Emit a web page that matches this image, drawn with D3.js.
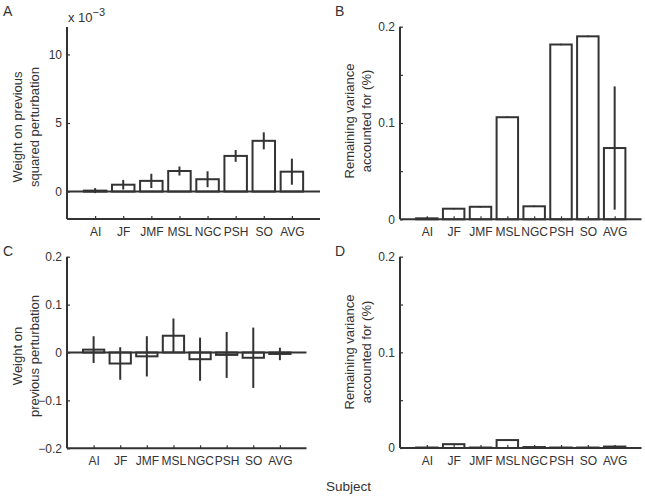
<!DOCTYPE html>
<html><head><meta charset="utf-8">
<script src="https://cdn.jsdelivr.net/npm/d3@7"></script>
<style>body{margin:0;background:#fff}svg{display:block}text{font-family:"Liberation Sans",Arial,Helvetica,sans-serif;fill:#333}</style>
</head><body>
<script>
const subjects = ["AI","JF","JMF","MSL","NGC","PSH","SO","AVG"];
// Panel A (x 10^-3)
const aValues = [0.07, 0.5, 0.78, 1.5, 0.9, 2.6, 3.7, 1.45];
const aErrors = [0.18, 0.35, 0.52, 0.33, 0.58, 0.43, 0.62, 0.95];
// Panel B
const bValues = [0.001, 0.011, 0.013, 0.106, 0.0135, 0.1815, 0.190, 0.074];
const bErrors = [0.0008, 0.0008, 0.0008, 0.0008, 0.0008, 0.0008, 0.0008, 0.064];
// Panel C
const cValues = [0.006, -0.023, -0.008, 0.035, -0.014, -0.005, -0.011, -0.003];
const cErrors = [0.028, 0.034, 0.042, 0.036, 0.045, 0.048, 0.063, 0.013];
// Panel D
const dValues = [0.0005, 0.004, 0.0005, 0.0083, 0.001, 0.0005, 0.0005, 0.0015];
const dErrors = [0.0005, 0.0005, 0.0005, 0.0005, 0.0005, 0.0005, 0.0005, 0.001];

const aTicks = [0, 5, 10], aTickLabels = ["0","5","10"];
const bTicks = [0, 0.05, 0.1, 0.15, 0.2], bTickLabels = ["0","","0.1","","0.2"];
const cTicks = [-0.2, -0.1, 0, 0.1, 0.2], cTickLabels = ["\u22120.2","\u22120.1","0","0.1","0.2"];

const W = 645, H = 498, ink = "#333";
const svg = d3.select("body").append("svg").attr("width", W).attr("height", H);

function panel(o) {
  const g = svg.append("g");
  const x = d3.scaleLinear().domain([0, subjects.length + 1]).range([o.x0, o.x1]);
  const y = d3.scaleLinear().domain(o.domain).range([o.yb, o.yt]);
  const bw = (x(1) - x(0)) * 0.8;
  g.selectAll("rect.bar").data(o.values).join("rect")
    .attr("x", (d, i) => x(i + 1) - bw / 2)
    .attr("y", d => y(Math.max(0, d)))
    .attr("width", bw)
    .attr("height", d => Math.abs(y(0) - y(d)))
    .attr("fill", "#fff").attr("stroke", ink).attr("stroke-width", 2);
  g.selectAll("line.err").data(o.values).join("line")
    .attr("x1", (d, i) => x(i + 1)).attr("x2", (d, i) => x(i + 1))
    .attr("y1", (d, i) => y(d - o.errors[i])).attr("y2", (d, i) => y(d + o.errors[i]))
    .attr("stroke", ink).attr("stroke-width", 2);
  if (o.domain[0] < 0) {
    g.append("line").attr("x1", o.x0).attr("x2", o.x1).attr("y1", y(0)).attr("y2", y(0))
      .attr("stroke", ink).attr("stroke-width", 2);
  }
  const ya = d3.axisLeft(y).tickValues(o.ticks).tickSize(-3).tickPadding(5)
    .tickFormat((d, i) => o.tickLabels[i]);
  const yg = g.append("g").attr("transform", `translate(${o.x0},0)`).call(ya);
  const xa = d3.axisBottom(x).tickValues(d3.range(1, subjects.length + 1)).tickSize(-3).tickPadding(8)
    .tickFormat(d => subjects[d - 1]);
  const xg = g.append("g").attr("transform", `translate(0,${o.yb})`).call(xa);
  [yg, xg].forEach(a => {
    a.select(".domain").attr("stroke", ink).attr("stroke-width", 2);
    a.selectAll(".tick line").attr("stroke", ink).attr("stroke-width", 1.2);
    a.selectAll("text").attr("font-size", 12).attr("fill", ink)
      .style("font-family", '"Liberation Sans",Arial,sans-serif');
  });
  yg.select(".domain").attr("d", `M0,${o.yb}V${o.yt}`);
  xg.select(".domain").attr("d", `M${o.x0},0H${o.x1}`);
  const lab = g.append("text").attr("transform", `translate(${o.lx},${o.ly}) rotate(-90)`)
    .attr("text-anchor", "middle").attr("font-size", 13);
  lab.append("tspan").attr("x", 0).attr("dy", 0).text(o.label[0]);
  lab.append("tspan").attr("x", 0).attr("dy", 17).text(o.label[1]);
  g.append("text").attr("x", o.px).attr("y", o.py).attr("font-size", 14).text(o.letter);
}

panel({letter: "A", px: 3, py: 16, x0: 67, x1: 320, yt: 27, yb: 219, domain: [-2, 12],
  values: aValues, errors: aErrors, ticks: aTicks, tickLabels: aTickLabels,
  label: ["Weight on previous", "squared perturbation"], lx: 22, ly: 127});
panel({letter: "B", px: 335, py: 16, x0: 400, x1: 641.5, yt: 26.7, yb: 219.3, domain: [0, 0.2],
  values: bValues, errors: bErrors, ticks: bTicks, tickLabels: bTickLabels,
  label: ["Remaining variance", "accounted for (%)"], lx: 354, ly: 121});
panel({letter: "C", px: 3, py: 256, x0: 67, x1: 306.5, yt: 256.7, yb: 448.3, domain: [-0.2, 0.2],
  values: cValues, errors: cErrors, ticks: cTicks, tickLabels: cTickLabels,
  label: ["Weight on", "previous perturbation"], lx: 22, ly: 356});
panel({letter: "D", px: 335, py: 256, x0: 400, x1: 641.5, yt: 256.7, yb: 448, domain: [0, 0.2],
  values: dValues, errors: dErrors, ticks: bTicks, tickLabels: bTickLabels,
  label: ["Remaining variance", "accounted for (%)"], lx: 354, ly: 352});

const mult = svg.append("text").attr("x", 68).attr("y", 22).attr("font-size", 13);
mult.append("tspan").text("x 10");
mult.append("tspan").attr("dy", -6).attr("font-size", 11).text("\u22123");

svg.append("text").attr("x", 326).attr("y", 491).attr("font-size", 13.5).text("Subject");
</script>
</body></html>
